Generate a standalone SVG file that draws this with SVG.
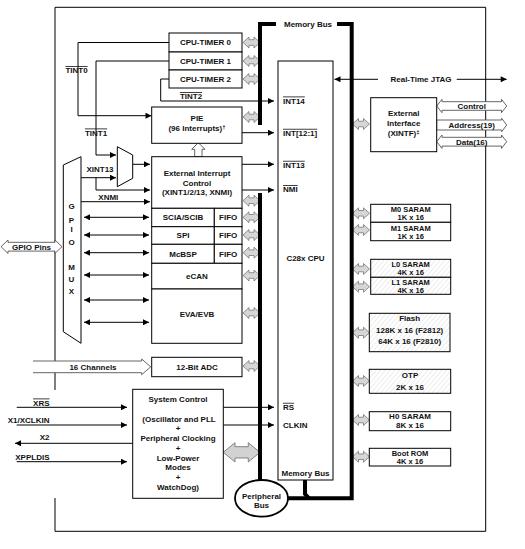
<svg xmlns="http://www.w3.org/2000/svg" width="525" height="549" viewBox="0 0 525 549">
<style>
text{font-family:"Liberation Sans",Arial,sans-serif;font-size:8px;font-weight:bold;fill:#111}
.c{text-anchor:middle}
.e{text-anchor:end}
.ov{text-decoration:overline}
.m{font-size:7.5px}
.box{fill:#fff;stroke:#000;stroke-width:1}
.hb{fill:url(#hatch);stroke:#000;stroke-width:1}
.ln{fill:none;stroke:#000;stroke-width:1}
.bus{fill:none;stroke:#000;stroke-width:4}
.hol{fill:#fff;stroke:#555;stroke-width:0.9}
</style>
<defs>
<marker id="ah" viewBox="0 0 10 10" refX="10" refY="5" markerWidth="7" markerHeight="6" markerUnits="userSpaceOnUse" orient="auto-start-reverse"><path d="M0,0 L10,5 L0,10 z" fill="#000"/></marker>
<pattern id="hatch" width="3.6" height="6" patternUnits="userSpaceOnUse" patternTransform="rotate(40)"><rect width="3.6" height="6" fill="#fff"/><line x1="0" y1="0" x2="0" y2="6" stroke="#c8c8c8" stroke-width="0.7"/></pattern>
<path id="ga" d="M0,0 L6,-5.5 L6,-2.8 L11,-2.8 L11,-5.5 L17,0 L11,5.5 L11,2.8 L6,2.8 L6,5.5 Z" fill="#d6d6d6" stroke="#777" stroke-width="0.8"/>
</defs>
<rect width="525" height="549" fill="#fff"/>

<!-- outer frame -->
<path id="frame" class="ln" d="M55,390 V7.3 H485.7 V531.3 H55 V498"/>

<!-- connectors -->
<g id="connectors">
<polyline class="ln" points="169,42.5 78,42.5 78,115.7 151.5,115.7" marker-end="url(#ah)"/>
<polyline class="ln" points="169,61 96,61 96,155 116,155" marker-end="url(#ah)"/>
<polyline class="ln" points="169,79 160.7,79 160.7,101 274,101" marker-end="url(#ah)"/>
<line class="ln" x1="242" y1="132.7" x2="274" y2="132.7" marker-end="url(#ah)"/>
<line class="ln" x1="132.7" y1="164.3" x2="150" y2="164.3" marker-end="url(#ah)"/>
<line class="ln" x1="242" y1="164.3" x2="274" y2="164.3" marker-end="url(#ah)"/>
<line class="ln" x1="242" y1="190" x2="274" y2="190" marker-end="url(#ah)"/>
<line class="ln" x1="81" y1="177.7" x2="116" y2="177.7" marker-end="url(#ah)"/>
<polyline class="ln" points="96,177.7 96,190 150,190" marker-end="url(#ah)"/>
<line class="ln" x1="81" y1="201.7" x2="150" y2="201.7" marker-end="url(#ah)"/>
<line class="ln" x1="84" y1="217.3" x2="149" y2="217.3" marker-start="url(#ah)" marker-end="url(#ah)"/>
<line class="ln" x1="84" y1="235" x2="149" y2="235" marker-start="url(#ah)" marker-end="url(#ah)"/>
<line class="ln" x1="84" y1="252.7" x2="149" y2="252.7" marker-start="url(#ah)" marker-end="url(#ah)"/>
<line class="ln" x1="84" y1="275" x2="149" y2="275" marker-start="url(#ah)" marker-end="url(#ah)"/>
<line class="ln" x1="84" y1="300" x2="149" y2="300" marker-start="url(#ah)" marker-end="url(#ah)"/>
<line class="ln" x1="84" y1="322.3" x2="149" y2="322.3" marker-start="url(#ah)" marker-end="url(#ah)"/>
<line class="ln" x1="16.7" y1="407.3" x2="127" y2="407.3" marker-end="url(#ah)"/>
<line class="ln" x1="16.7" y1="425" x2="127" y2="425" marker-end="url(#ah)"/>
<line class="ln" x1="132.7" y1="443.3" x2="15" y2="443.3" marker-end="url(#ah)"/>
<line class="ln" x1="16.7" y1="461.7" x2="127" y2="461.7" marker-end="url(#ah)"/>
<line class="ln" x1="223.3" y1="407.3" x2="274" y2="407.3" marker-end="url(#ah)"/>
<line class="ln" x1="223.3" y1="425" x2="274" y2="425" marker-end="url(#ah)"/>
<line class="ln" x1="378" y1="79.3" x2="334.5" y2="79.3" marker-end="url(#ah)"/>
<line class="ln" x1="456.7" y1="79.3" x2="506.7" y2="79.3" marker-end="url(#ah)"/>
<!-- gray bus arrows -->
<use href="#ga" x="243" y="42.5"/>
<use href="#ga" x="243" y="61"/>
<use href="#ga" x="243" y="79"/>
<use href="#ga" x="243" y="117"/>
<use href="#ga" x="243" y="200.7"/>
<use href="#ga" x="243" y="217.3"/>
<use href="#ga" x="243" y="235"/>
<use href="#ga" x="243" y="252.7"/>
<use href="#ga" x="243" y="275.5"/>
<use href="#ga" x="243" y="313"/>
<use href="#ga" x="243" y="366"/>
<use href="#ga" x="352.5" y="124"/>
<use href="#ga" x="352.5" y="213.3"/>
<use href="#ga" x="352.5" y="230"/>
<use href="#ga" x="352.5" y="269"/>
<use href="#ga" x="352.5" y="286.7"/>
<use href="#ga" x="352.5" y="332.7"/>
<use href="#ga" x="352.5" y="381"/>
<use href="#ga" x="352.5" y="420"/>
<use href="#ga" x="352.5" y="456.7"/>
<!-- hollow arrows -->
<path class="hol" d="M198.3,142.7 L205,149.3 H202 V156.7 H194.7 V149.3 H191.7 Z"/>
<path class="hol" d="M1,246.7 L8,240 V242.3 H55 V240 L62,246.7 L55,253.4 V251.1 H8 V253.4 Z"/>
<path class="hol" d="M33,361 H141.7 V359 L150.7,366.8 L141.7,374.7 V372.7 H33"/>
<path class="hol" d="M436.7,106 L442,99.3 V101.7 H501.5 V99.3 L506.7,106 L501.5,112.7 V110.3 H442 V112.7 Z"/>
<path class="hol" d="M436.7,120 H501.7 V118.3 L506.7,125 L501.7,131.7 V130 H436.7 Z"/>
<path class="hol" d="M436.7,141.7 L442,135 V137.3 H501.5 V135 L506.7,141.7 L501.5,148.4 V146.1 H442 V148.4 Z"/>
<path d="M223.3,452.3 L235,442.7 V446.7 H248.3 V442.7 L260,452.3 L248.3,462 V458 H235 V462 Z" fill="#d2d2d2" stroke="#777" stroke-width="0.9"/>
<!-- buses -->
<path class="bus" d="M260,125 V24 H276"/>
<path class="bus" d="M337,24 H351.7 V498.3 H288"/>
<path class="bus" d="M260,193 V480"/>
<path class="bus" d="M305,480 V494 L309,498.3" stroke-width="3"/>
<!-- connector labels -->
<text class="c ov" x="76.5" y="73">TINT0</text>
<text class="c ov" x="96" y="135.5">TINT1</text>
<text class="c ov" x="191" y="99">TINT2</text>
<text class="c" x="100" y="172">XINT13</text>
<text class="c" x="108.3" y="199.5">XNMI</text>
<text class="c" x="421" y="82.2">Real-Time JTAG</text>
<text class="c" x="471.7" y="108.9">Control</text>
<text class="c" x="471.7" y="127.9">Address(19)</text>
<text class="c" x="471.7" y="144.6">Data(16)</text>
<text class="c" x="31.5" y="249.6">GPIO Pins</text>
<text class="c" x="93" y="369.6">16 Channels</text>
<text class="e ov" x="49.5" y="405.5">XRS</text>
<text class="e" x="49.5" y="422.6">X1/XCLKIN</text>
<text class="e" x="49.5" y="440">X2</text>
<text class="e" x="49.5" y="460">XPPLDIS</text>
<text class="c" x="308" y="26.9">Memory Bus</text>
</g>

<g id="cpu">
<rect class="box" x="278" y="61" width="55" height="419"/>
<text class="ov" x="283" y="103.5">INT14</text>
<text class="ov" x="283" y="135.8">INT[12:1]</text>
<text class="ov" x="283" y="167.8">INT13</text>
<text class="ov" x="283" y="192">NMI</text>
<text class="c" x="305.5" y="261">C28x CPU</text>
<text class="ov" x="283" y="409.8">RS</text>
<text x="283" y="427.8">CLKIN</text>
<text class="c" x="305.5" y="475.6">Memory Bus</text>
</g>

<g id="timer0"><rect class="box" x="169" y="33" width="73" height="19"/><text class="c" x="205.5" y="45.4">CPU-TIMER 0</text></g>
<g id="timer1"><rect class="box" x="169" y="52" width="73" height="18"/><text class="c" x="205.5" y="63.9">CPU-TIMER 1</text></g>
<g id="timer2"><rect class="box" x="169" y="70" width="73" height="18"/><text class="c" x="205.5" y="81.9">CPU-TIMER 2</text></g>

<g id="pie"><rect class="box" x="151.7" y="107" width="90.3" height="36.3"/>
<text class="c" x="197" y="121.2">PIE</text>
<text class="c" x="197" y="131.2">(96 Interrupts)<tspan font-size="6" dy="-2.5">†</tspan></text></g>

<g id="mux"><polygon class="box" points="117.3,146.7 132.7,155 132.7,178.3 117.3,186.7"/></g>

<g id="extint"><rect class="box" x="151.7" y="156.7" width="90.3" height="51.6"/>
<text class="c" x="197" y="175.9">External Interrupt</text>
<text class="c" x="197" y="185.6">Control</text>
<text class="c" x="197" y="194.9">(XINT1/2/13, XNMI)</text></g>

<g id="sci"><rect class="box" x="151.7" y="208.3" width="62.6" height="18.4"/><rect class="box" x="214.3" y="208.3" width="27.7" height="18.4"/>
<text class="c" x="183" y="220.4">SCIA/SCIB</text><text class="c" x="228.2" y="220.4">FIFO</text></g>
<g id="spi"><rect class="box" x="151.7" y="226.7" width="62.6" height="17.6"/><rect class="box" x="214.3" y="226.7" width="27.7" height="17.6"/>
<text class="c" x="183" y="238.4">SPI</text><text class="c" x="228.2" y="238.4">FIFO</text></g>
<g id="mcbsp"><rect class="box" x="151.7" y="244.3" width="62.6" height="19"/><rect class="box" x="214.3" y="244.3" width="27.7" height="19"/>
<text class="c" x="183" y="256.7">McBSP</text><text class="c" x="228.2" y="256.7">FIFO</text></g>
<g id="ecan"><rect class="box" x="151.7" y="263.3" width="90.3" height="25.7"/><text class="c" x="197" y="279">eCAN</text></g>
<g id="eva"><rect class="box" x="151.7" y="289" width="90.3" height="54.3"/><text class="c" x="197" y="317.2">EVA/EVB</text></g>
<g id="adc"><rect class="box" x="151.7" y="357.3" width="90.3" height="19.4"/><text class="c" x="197" y="369.9">12-Bit ADC</text></g>

<g id="gpiomux"><polygon class="box" points="63.3,165 81,156.7 81,343.3 63.3,331.7"/>
<text class="c" x="71.5" y="208.9">G</text>
<text class="c" x="71.5" y="222.9">P</text>
<text class="c" x="71.5" y="232.2">I</text>
<text class="c" x="71.5" y="245.2">O</text>
<text class="c" x="71.5" y="269.6">M</text>
<text class="c" x="71.5" y="281.6">U</text>
<text class="c" x="71.5" y="293.9">X</text></g>

<g id="sysctl"><rect class="box" x="132.7" y="389.3" width="90.6" height="109"/>
<text class="c" x="178" y="401.9">System Control</text>
<text class="c" x="179" y="422.2">(Oscillator and  PLL</text>
<text class="c" x="178" y="431">+</text>
<text class="c" x="178" y="441.2">Peripheral Clocking</text>
<text class="c" x="178" y="451">+</text>
<text class="c" x="178" y="461.2">Low-Power</text>
<text class="c" x="178" y="470.2">Modes</text>
<text class="c" x="178" y="480">+</text>
<text class="c" x="178" y="490.2">WatchDog)</text></g>

<g id="periphbus"><ellipse cx="261.5" cy="498.3" rx="26.5" ry="18.3" fill="#fff" stroke="#000" stroke-width="1.8"/>
<text class="c" x="261.5" y="498.6">Peripheral</text>
<text class="c" x="261.5" y="507.8">Bus</text></g>

<g id="xintf"><rect class="box" x="370.7" y="97.7" width="66" height="54"/>
<text class="c" x="403.7" y="116.2">External</text>
<text class="c" x="403.7" y="126.2">Interface</text>
<text class="c" x="403.7" y="136.2">(XINTF)<tspan font-size="6" dy="-2.5">‡</tspan></text></g>

<g id="m0"><rect class="box" x="370.7" y="204.3" width="80" height="18"/><text class="c m" x="410.7" y="211.8">M0 SARAM</text><text class="c m" x="410.7" y="219.6">1K x 16</text></g>
<g id="m1"><rect class="box" x="370.7" y="222.3" width="80" height="18.4"/><text class="c m" x="410.7" y="230.8">M1 SARAM</text><text class="c m" x="410.7" y="238.6">1K x 16</text></g>
<g id="l0"><rect class="hb" x="370.7" y="259.3" width="80" height="18"/><text class="c m" x="410.7" y="267.3">L0 SARAM</text><text class="c m" x="410.7" y="275.3">4K x 16</text></g>
<g id="l1"><rect class="hb" x="370.7" y="277.3" width="80" height="17"/><text class="c m" x="410.7" y="285">L1 SARAM</text><text class="c m" x="410.7" y="293">4K x 16</text></g>
<g id="flash"><rect class="hb" x="369.3" y="313.3" width="80.7" height="38.4"/><text class="c" x="409.7" y="321.2">Flash</text><text class="c" x="409.7" y="332.8">128K x 16 (F2812)</text><text class="c" x="409.7" y="343.5">64K x 16 (F2810)</text></g>
<g id="otp"><rect class="hb" x="369.3" y="369.3" width="81.4" height="24"/><text class="c" x="410" y="377.8">OTP</text><text class="c" x="410" y="389.5">2K x 16</text></g>
<g id="h0"><rect class="box" x="369.3" y="411.7" width="81.4" height="19"/><text class="c" x="410" y="418.8">H0 SARAM</text><text class="c" x="410" y="427.8">8K x 16</text></g>
<g id="bootrom"><rect class="box" x="369.3" y="448.3" width="81.4" height="17.7"/><text class="c m" x="410" y="455.6">Boot ROM</text><text class="c m" x="410" y="463.6">4K x 16</text></g>
</svg>
